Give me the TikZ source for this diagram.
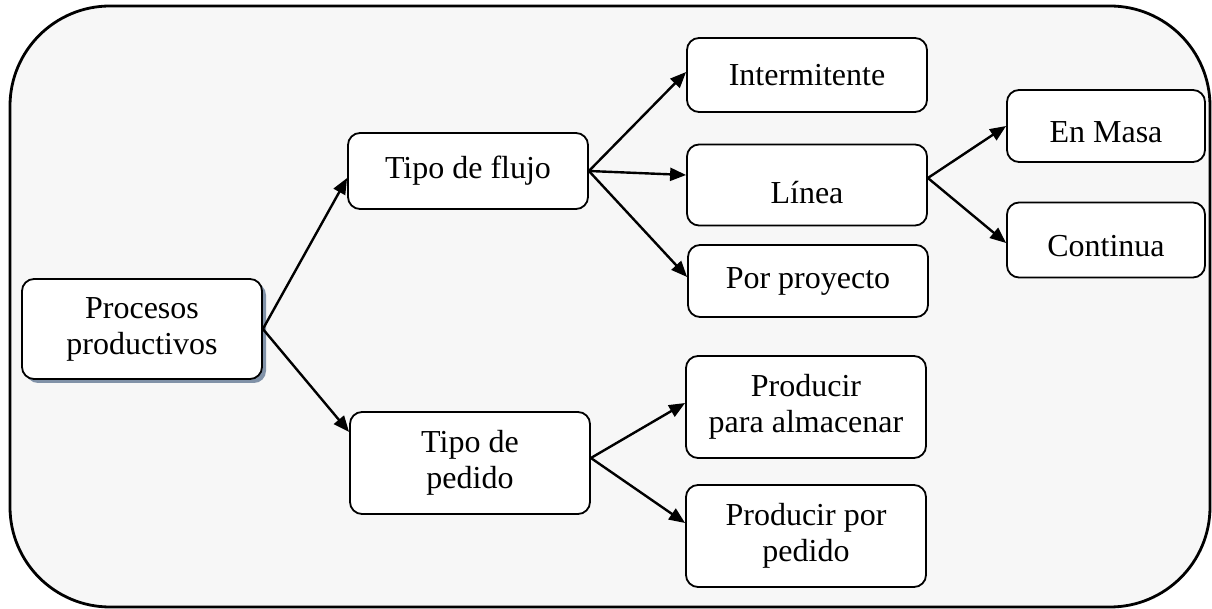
\documentclass[tikz,border=0pt]{standalone}
\usepackage{fontspec}
\setmainfont{Liberation Serif}
\usetikzlibrary{arrows.meta,shadows}
\definecolor{fondo}{HTML}{F7F7F7}
\definecolor{sombra}{HTML}{8192A8}
\tikzset{
  caja/.style={draw, fill=white, rounded corners=6pt, line width=0.9pt,
    align=center, minimum width=120pt, inner sep=2pt,
    font=\fontsize{16}{18}\selectfont},
  flecha/.style={-{Triangle[length=8pt,width=6.5pt]}, line width=1.2pt}
}
\begin{document}
\begin{tikzpicture}[x=0.5pt,y=-0.5pt]
      \useasboundingbox (0,0) rectangle (1212,609);
      \draw[line width=1.4pt, fill=fondo, rounded corners=50pt] (10,6) rectangle (1210,607);
      \draw
        (142,329) node[caja, minimum height=50pt,
          drop shadow={shadow xshift=2pt, shadow yshift=-2pt, fill=sombra, opacity=1}]
          (proc){Procesos\\productivos}
        (468,171) node[caja, minimum height=38pt] (flujo){Tipo de flujo}
        (470,463) node[caja, minimum height=51pt] (pedido){Tipo de\\pedido}
        (807,75) node[caja, minimum height=37pt] (interm){Intermitente}
        (807,185) node[caja, minimum height=40.5pt] (linea){\raisebox{-4pt}[\height][\depth]{Línea}}
        (808,281) node[caja, minimum height=36pt] (proy){Por proyecto}
        (806,407) node[caja, minimum height=51pt] (almac){Producir\\para almacenar}
        (806,536) node[caja, minimum height=51pt] (porped){Producir por\\pedido}
        (1106,126) node[caja, minimum width=99pt, minimum height=36pt] (masa){\raisebox{-3pt}[\height][\depth]{En Masa}}
        (1106,240) node[caja, minimum width=99pt, minimum height=37.5pt] (cont){\raisebox{-3pt}[\height][\depth]{Continua}};
      \begin{scope}[flecha]
        \draw (proc.east) to ([yshift=-3.5pt]flujo.west);
        \draw (proc.east) to ([yshift=15.5pt]pedido.west);
        \draw (flujo.east) to ([yshift=1.5pt]interm.west);
        \draw (flujo.east) to ([yshift=5pt]linea.west);
        \draw (flujo.east) to ([yshift=2pt]proy.west);
        \draw ([yshift=2.5pt]pedido.east) to ([yshift=2pt]almac.west);
        \draw ([yshift=2.5pt]pedido.east) to ([yshift=6.5pt]porped.west);
        \draw ([yshift=3.5pt]linea.east) to (masa.west);
        \draw ([yshift=3.5pt]linea.east) to ([yshift=-1.5pt]cont.west);
      \end{scope}
    \end{tikzpicture}
\end{document}
